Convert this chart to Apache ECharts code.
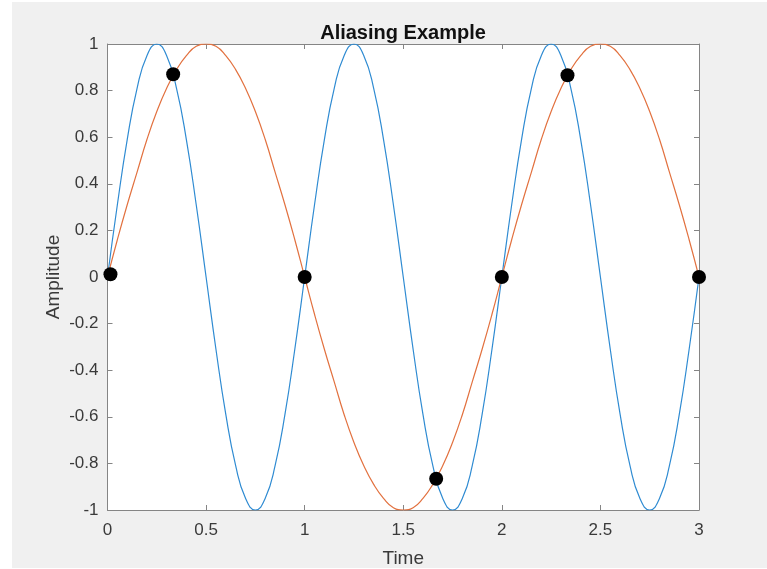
<!DOCTYPE html>
<html>
<head>
<meta charset="utf-8">
<script src="https://cdn.jsdelivr.net/npm/echarts@6/dist/echarts.min.js"></script>
<style>
  html, body { margin: 0; padding: 0; background: #fff; }
  #panel { position: absolute; left: 12px; top: 2px; width: 755px; height: 566px; background: #f0f0f0; }
  #chart { width: 755px; height: 566px; }
</style>
</head>
<body>
<div id="panel"><div id="chart"></div></div>
<script>
// time samples (s)
const timeData = [
  0, 0.05, 0.1, 0.15, 0.2, 0.25, 0.3, 0.35, 0.4, 0.45,
  0.5, 0.55, 0.6, 0.65, 0.7, 0.75, 0.8, 0.85, 0.9, 0.95,
  1, 1.05, 1.1, 1.15, 1.2, 1.25, 1.3, 1.35, 1.4, 1.45,
  1.5, 1.55, 1.6, 1.65, 1.7, 1.75, 1.8, 1.85, 1.9, 1.95,
  2, 2.05, 2.1, 2.15, 2.2, 2.25, 2.3, 2.35, 2.4, 2.45,
  2.5, 2.55, 2.6, 2.65, 2.7, 2.75, 2.8, 2.85, 2.9, 2.95,
  3
];
// fast signal (blue)
const fastSignal = [
  0, 0.31, 0.59, 0.81, 0.95, 1, 0.95, 0.81, 0.59, 0.31,
  0, -0.31, -0.59, -0.81, -0.95, -1, -0.95, -0.81, -0.59, -0.31,
  0, 0.31, 0.59, 0.81, 0.95, 1, 0.95, 0.81, 0.59, 0.31,
  0, -0.31, -0.59, -0.81, -0.95, -1, -0.95, -0.81, -0.59, -0.31,
  0, 0.31, 0.59, 0.81, 0.95, 1, 0.95, 0.81, 0.59, 0.31,
  0, -0.31, -0.59, -0.81, -0.95, -1, -0.95, -0.81, -0.59, -0.31,
  0
];
// alias signal (orange)
const aliasSignal = [
  0, 0.16, 0.31, 0.45, 0.59, 0.71, 0.81, 0.89, 0.95, 0.99,
  1, 0.99, 0.95, 0.89, 0.81, 0.71, 0.59, 0.45, 0.31, 0.16,
  0, -0.16, -0.31, -0.45, -0.59, -0.71, -0.81, -0.89, -0.95, -0.99,
  -1, -0.99, -0.95, -0.89, -0.81, -0.71, -0.59, -0.45, -0.31, -0.16,
  0, 0.16, 0.31, 0.45, 0.59, 0.71, 0.81, 0.89, 0.95, 0.99,
  1, 0.99, 0.95, 0.89, 0.81, 0.71, 0.59, 0.45, 0.31, 0.16,
  0
];
// sampled points (black dots)
const sampleTime = [0.015, 0.333, 1, 1.667, 2, 2.333, 3];
const sampleValue = [0.012, 0.87, 0, -0.866, 0, 0.866, 0];

const font = '"Liberation Sans", Arial, sans-serif';
const axisColor = '#858585';
const labelColor = '#3a3a3a';

const zip = (xs, ys) => xs.map((x, i) => [x, ys[i]]);

const myChart = echarts.init(document.getElementById('chart'));

const xBase = {
  type: 'value', min: 0, max: 3, interval: 0.5,
  axisLine: { show: true, onZero: false, lineStyle: { color: axisColor, width: 1 } },
  axisTick: { show: true, inside: true, length: 5, lineStyle: { color: axisColor } },
  splitLine: { show: false }
};
const yBase = {
  type: 'value', min: -1, max: 1, interval: 0.2,
  axisLine: { show: true, onZero: false, lineStyle: { color: axisColor, width: 1 } },
  axisTick: { show: true, inside: true, length: 5, lineStyle: { color: axisColor } },
  splitLine: { show: false }
};

const option = {
  animation: false,
  title: {
    text: 'Aliasing Example',
    left: 391, top: 21, textAlign: 'center', padding: 0,
    textStyle: { fontFamily: font, fontSize: 20, fontWeight: 'bold', color: '#111' }
  },
  grid: {
    left: 95.5, top: 42, width: 591.5, height: 466,
    show: true, backgroundColor: '#fff', borderWidth: 0,
    containLabel: false, outerBoundsMode: 'none'
  },
  xAxis: [
    Object.assign({}, xBase, {
      position: 'bottom',
      name: 'Time', nameLocation: 'middle', nameGap: 39, nameMoveOverlap: false,
      nameTextStyle: { fontFamily: font, fontSize: 19, color: labelColor },
      axisLabel: { fontFamily: font, fontSize: 17, color: labelColor, margin: 12 }
    }),
    Object.assign({}, xBase, { position: 'top', axisLabel: { show: false } })
  ],
  yAxis: [
    Object.assign({}, yBase, {
      position: 'left',
      name: 'Amplitude', nameLocation: 'middle', nameGap: 44, nameMoveOverlap: false,
      nameTextStyle: { fontFamily: font, fontSize: 19, color: labelColor },
      axisLabel: { fontFamily: font, fontSize: 17, color: labelColor, margin: 9, padding: [3, 0, 0, 0] }
    }),
    Object.assign({}, yBase, { position: 'right', axisLabel: { show: false } })
  ],
  series: [
    {
      type: 'line', data: zip(timeData, fastSignal), smooth: true,
      showSymbol: false, lineStyle: { color: '#2f8bd2', width: 1.2 }, z: 2
    },
    {
      type: 'line', data: zip(timeData, aliasSignal), smooth: true,
      showSymbol: false, lineStyle: { color: '#e2713f', width: 1.2 }, z: 3
    },
    {
      type: 'scatter', data: zip(sampleTime, sampleValue), symbolSize: 14,
      itemStyle: { color: '#000', opacity: 1 }, clip: false, z: 5
    }
  ]
};

myChart.setOption(option);
</script>
</body>
</html>
